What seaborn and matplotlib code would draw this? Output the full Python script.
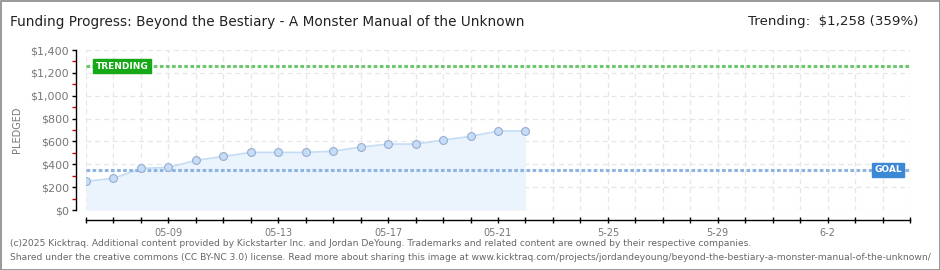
import pandas as pd
import seaborn as sns
import numpy as np
import matplotlib.pyplot as plt
import matplotlib.dates as mdates
from matplotlib.patches import Rectangle

# daily pledged totals
dates = ["2025-05-06", "2025-05-07", "2025-05-08", "2025-05-09", "2025-05-10",
         "2025-05-11", "2025-05-12", "2025-05-13", "2025-05-14", "2025-05-15",
         "2025-05-16", "2025-05-17", "2025-05-18", "2025-05-19", "2025-05-20",
         "2025-05-21", "2025-05-22"]
pledged = [251, 277, 364, 373, 434, 469, 504, 504, 504, 514,
           551, 577, 577, 612, 644, 691, 691]
goal = 350
trending = 1258
tick_labels = {"2025-05-09": "05-09", "2025-05-13": "05-13", "2025-05-17": "05-17",
               "2025-05-21": "05-21", "2025-05-25": "5-25", "2025-05-29": "5-29",
               "2025-06-02": "6-2"}
yticks = [0, 200, 400, 600, 800, 1000, 1200, 1400]

df = pd.DataFrame({"date": pd.to_datetime(dates), "pledged": pledged})

sns.set_style("white")
plt.rcParams['font.family'] = ['DejaVu Sans']

fig = plt.figure(figsize=(9.4, 2.7), dpi=100)
ax = fig.add_axes([86/940, 1-210/270, 824/940, 160/270])

start = pd.Timestamp("2025-05-06")
end = pd.Timestamp("2025-06-05")
days = pd.date_range(start, end, freq="D")

# grid
for d in days:
    ax.axvline(d, color="#e6e6e6", lw=0.9, ls=(0, (4, 3)), zorder=0)
for y in yticks:
    ax.axhline(y, color="#e6e6e6", lw=0.9, ls=(0, (4, 3)), zorder=0)

ax.fill_between(df["date"], df["pledged"], 0, color="#ebf3fc", zorder=1, lw=0)
sns.lineplot(data=df, x="date", y="pledged", ax=ax, color="#c4dcf6", lw=1.2, zorder=2)
sns.scatterplot(data=df, x="date", y="pledged", ax=ax, color="#c6dcf7",
                edgecolor="#95aed0", linewidth=0.8, s=32, zorder=3)

# goal and trending lines
ax.axhline(trending, color="#6cc86c", lw=2.2, ls=(0, (1.2, 0.8)), zorder=2)
ax.axhline(goal, color="#8eb4e2", lw=2.2, ls=(0, (1.2, 0.8)), zorder=2)

ax.text(start + pd.Timedelta(days=0.35), trending, "TRENDING", color="white",
        fontsize=6.5, fontweight="bold", va="center", ha="left", zorder=5,
        bbox=dict(boxstyle="square,pad=0.25", fc="#16a816", ec="#16a816"))
ax.text(end - pd.Timedelta(days=1.3), goal, "GOAL", color="white",
        fontsize=6.5, fontweight="bold", va="center", ha="left", zorder=5,
        bbox=dict(boxstyle="square,pad=0.25", fc="#3b88d6", ec="#3b88d6"))

ax.set_xlim(start, end)
ax.set_ylim(0, 1400)

ax.set_xticks(days)
ax.set_xticklabels([tick_labels.get(d.strftime("%Y-%m-%d"), "") for d in days])
ax.set_yticks(yticks)
ax.set_yticklabels(["$" + format(v, ",") for v in yticks])
ax.set_yticks(np.arange(100, 1400, 200), minor=True)

ax.tick_params(axis="x", bottom=True, direction="inout", length=5, width=1, color="black",
               labelsize=7, labelcolor="#777777", pad=3)
ax.tick_params(axis="y", which="major", left=True, direction="out", length=3, width=1,
               color="black", labelsize=8, labelcolor="#777777", pad=2)
ax.tick_params(axis="y", which="minor", left=True, direction="out", length=3, width=1,
               color="#dd0000")

sns.despine(ax=ax, offset=7.2)
ax.spines["left"].set_bounds(0, 1400)
ax.spines["bottom"].set_bounds(mdates.date2num(start), mdates.date2num(end))
for s in ["left", "bottom"]:
    ax.spines[s].set_linewidth(1)
    ax.spines[s].set_color("black")
ax.set_xlabel("")
ax.set_ylabel("PLEDGED", fontsize=7, color="#777777")
ax.yaxis.set_label_coords(-64/824, 0.5)

fig.text(10/940, 1-22/270, "Funding Progress: Beyond the Bestiary - A Monster Manual of the Unknown",
         fontsize=9.8, color="#222222", va="center", ha="left")
fig.text(918/940, 1-22/270, "Trending:  $1,258 (359%)",
         fontsize=9.6, color="#222222", va="center", ha="right")
fig.text(10/940, 1-243/270,
         "(c)2025 Kicktraq. Additional content provided by Kickstarter Inc. and Jordan DeYoung. Trademarks and related content are owned by their respective companies.",
         fontsize=6.6, color="#666666", va="center", ha="left")
fig.text(10/940, 1-257/270,
         "Shared under the creative commons (CC BY-NC 3.0) license. Read more about sharing this image at www.kicktraq.com/projects/jordandeyoung/beyond-the-bestiary-a-monster-manual-of-the-unknown/",
         fontsize=6.6, color="#666666", va="center", ha="left")

fig.patches.append(Rectangle((0.5/940, 0.5/270), 1-1/940, 1-1/270, transform=fig.transFigure,
                             fill=False, ec="#888888", lw=1.2))

fig.savefig("out.png", dpi=100)
